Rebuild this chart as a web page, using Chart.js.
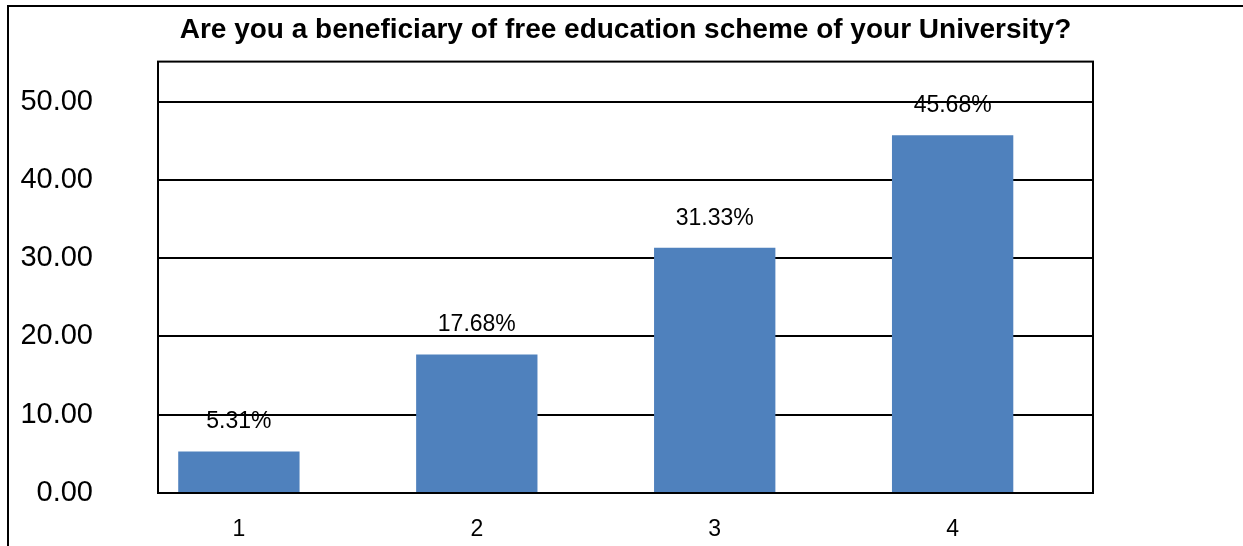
<!DOCTYPE html>
<html>
<head>
<meta charset="utf-8">
<script src="https://cdn.jsdelivr.net/npm/chart.js"></script>
<style>
  html, body { margin: 0; padding: 0; background: #fff; }
  #wrap { position: relative; width: 1243px; height: 546px; }
  #frame { position: absolute; left: 7px; top: 5px; right: 0; bottom: 0; border-left: 2px solid #000; border-top: 2px solid #000; }
  canvas { position: absolute; left: 0; top: 0; }
</style>
</head>
<body>
<div id="wrap">
  <div id="frame"></div>
  <canvas id="beneficiaryChart" width="1243" height="546"></canvas>
</div>
<script>
// values (the % labels above each bar)
const categories = [1, 2, 3, 4];
const percentValues = [5.31, 17.68, 31.33, 45.68];
const valueLabels = ['5.31%', '17.68%', '31.33%', '45.68%'];
const yTicks = [0, 10, 20, 30, 40, 50];

const titleText = 'Are you a beneficiary of free education scheme of your University?';

// draws the percentage text above each bar
const barLabels = {
  id: 'barLabels',
  afterDatasetsDraw(chart) {
    const ctx = chart.ctx;
    const meta = chart.getDatasetMeta(0);
    ctx.save();
    ctx.font = '23px "Liberation Sans", Arial, sans-serif';
    ctx.fillStyle = '#000';
    ctx.textAlign = 'center';
    ctx.textBaseline = 'bottom';
    meta.data.forEach((bar, i) => {
      ctx.fillText(valueLabels[i], bar.x, bar.y - 18);
    });
    ctx.restore();
  }
};

function initializeChart() {
  const ctx = document.getElementById('beneficiaryChart').getContext('2d');

  new Chart(ctx, {
    type: 'bar',
    data: {
      datasets: [{
        data: categories.map((c, i) => ({ x: c, y: percentValues[i] })),
        backgroundColor: '#4F81BD',
        borderWidth: 0,
        barPercentage: 0.51,
        categoryPercentage: 1
      }]
    },
    options: {
      responsive: false,
      animation: false,
      layout: { padding: { left: 10, right: 150, top: 0, bottom: 3 } },
      plugins: {
        legend: { display: false },
        tooltip: { enabled: false },
        title: {
          display: true,
          fullSize: false, // centre over the plot area, not the whole canvas
          text: titleText,
          color: '#000',
          font: { family: '"Liberation Sans", Arial, sans-serif', size: 28, weight: 'bold' },
          padding: { top: 13, bottom: 15 }
        }
      },
      scales: {
        x: {
          type: 'linear',
          offset: false,
          min: 0.66,
          max: 4.59,
          afterBuildTicks: scale => { scale.ticks = categories.map(v => ({ value: v })); },
          afterFit: scale => { scale.height = 50; },
          grid: { display: false, drawTicks: false, offset: false },
          border: { display: true, color: '#000', width: 2 },
          ticks: {
            color: '#000',
            padding: 23,
            maxRotation: 0,
            font: { family: '"Liberation Sans", Arial, sans-serif', size: 23 }
          }
        },
        y: {
          min: 0,
          max: 55.1,
          afterBuildTicks: scale => { scale.ticks = yTicks.map(v => ({ value: v })); },
          afterFit: scale => {
            scale.width = 148;
            scale.paddingTop = 0;
            scale.paddingBottom = 0;
          },
          grid: { color: '#000', lineWidth: 2, drawTicks: false },
          border: { display: true, color: '#000', width: 2 },
          ticks: {
            color: '#000',
            padding: 65,
            font: { family: '"Liberation Sans", Arial, sans-serif', size: 29 },
            callback: v => Number(v).toFixed(2)
          }
        }
      }
    },
    plugins: [barLabels, {
      id: 'plotBorder',
      afterDraw(chart) {
        const a = chart.chartArea;
        const c = chart.ctx;
        c.save();
        c.strokeStyle = '#000';
        c.lineWidth = 2;
        c.strokeRect(a.left, a.top, a.right - a.left, a.bottom - a.top);
        c.restore();
      }
    }]
  });
}

document.addEventListener('DOMContentLoaded', initializeChart);
</script>
</body>
</html>
